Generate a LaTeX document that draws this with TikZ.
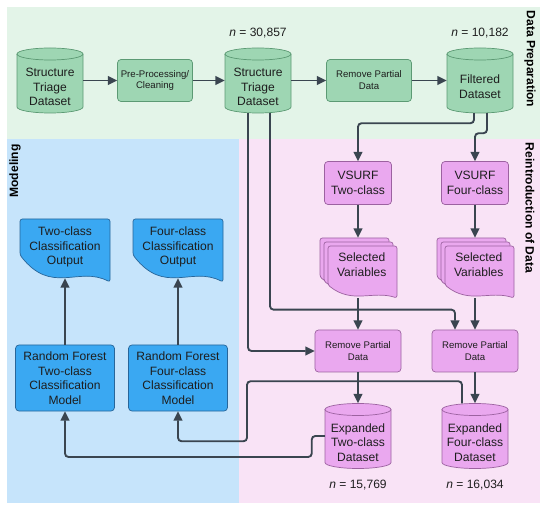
\documentclass[tikz,border=0pt]{standalone}
\usepackage{fontspec}
\setmainfont{Liberation Sans}
\usetikzlibrary{positioning,shapes.geometric,arrows.meta,calc}

\definecolor{prepBg}{HTML}{E3F4E8}
\definecolor{prepFill}{HTML}{9ED6B3}
\definecolor{prepLine}{HTML}{5C9A74}
\definecolor{modelBg}{HTML}{C6E4FB}
\definecolor{modelFill}{HTML}{3AA8F2}
\definecolor{modelLine}{HTML}{28669A}
\definecolor{reinBg}{HTML}{F9E3F6}
\definecolor{reinFill}{HTML}{EAA8EF}
\definecolor{reinLine}{HTML}{9C62A0}
\definecolor{flowLine}{HTML}{3A4550}
\definecolor{inkText}{HTML}{1E1E1E}

\tikzset{
  txt/.style={font=\fontsize{10.3}{12.4}\selectfont, text=inkText, align=center},
  smalltxt/.style={font=\fontsize{8.2}{10.2}\selectfont, text=inkText, align=center},
  lane/.style={font=\bfseries\fontsize{10.3}{12.4}\selectfont, text=black},
  tank/.style={rectangle, minimum width=1.98cm, minimum height=1.95cm, inner sep=0pt},
  tanktext/.style={txt, yshift=-5.5pt},
  stack/.style={rectangle, minimum width=2.31cm, minimum height=1.8cm, inner sep=0pt},
  stacktext/.style={txt, xshift=3.2pt, yshift=3pt},
  procbox/.style={rectangle, rounded corners=3pt, line width=0.6pt, inner sep=1pt},
  prepnode/.style={fill=prepFill, draw=prepLine},
  modelnode/.style={fill=modelFill, draw=modelLine},
  reinnode/.style={fill=reinFill, draw=reinLine},
  page/.style={line width=0.6pt, rounded corners=2pt},
  flow/.style={draw=flowLine, line width=1.6pt, rounded corners=3pt,
    -{Triangle[length=8pt,width=7.5pt]}},
}

%%% one page of a document shape: style, left, top, width, side height, wave depth
\newcommand{\docpage}[6]{%
  \filldraw[page,#1] (#2,#3) -- (#2+#4,#3) -- (#2+#4,#3+#5+#6)
    .. controls (#2+0.65*#4,#3+#5+0.4*#6) and (#2+0.35*#4,#3+#5+1.5*#6) .. (#2,#3+#5) -- cycle;}
%%% a database cylinder 66 wide and 65 high: style, centre x, centre y
\newcommand{\tankshape}[3]{%
  \filldraw[line width=0.6pt,#1] (#2-33,#3-26.5) -- (#2-33,#3+26.5)
    arc[start angle=180, end angle=360, x radius=0.99cm, y radius=0.18cm]
    -- (#2+33,#3-26.5) arc[start angle=0, end angle=180, x radius=0.99cm, y radius=0.18cm] -- cycle;
  \draw[line width=0.6pt,#1,fill=none] (#2-33,#3-26.5)
    arc[start angle=180, end angle=360, x radius=0.99cm, y radius=0.18cm];}

\begin{document}
\begin{tikzpicture}[x=0.03cm,y=-0.03cm]
\useasboundingbox (0,0) rectangle (550,512);
%%% The three swim lanes
\fill[prepBg] (7,7) rectangle (540,139);
\fill[modelBg] (7,139) rectangle (239,503);
\fill[reinBg] (239,139) rectangle (540,503);
\node[lane, rotate=-90] (lanePrep) at (530,59) {Data Preparation};
\node[lane, rotate=-90] (laneRein) at (530,208) {Reintroduction of Data};
\node[lane, rotate=90] (laneModel) at (15,171) {Modeling};

%%% Data preparation row
\tankshape{prepnode}{50}{80.5}
\tankshape{prepnode}{258}{80.5}
\tankshape{prepnode}{480}{80.5}
\node[tank, label={[tanktext]center:Structure\\Triage\\Dataset}] (src) at (50,80.5) {};
\node[procbox, prepnode, smalltxt, minimum width=2.25cm, minimum height=1.26cm] (prep) at (155,80.5) {Pre-Processing/\\Cleaning};
\node[tank, label={[tanktext]center:Structure\\Triage\\Dataset}] (triage) at (258,80.5) {};
\node[procbox, prepnode, smalltxt, minimum width=2.55cm, minimum height=1.26cm] (rmA) at (369,80.5) {Remove Partial\\Data};
\node[tank, label={[tanktext]center:Filtered\\Dataset}] (filt) at (480,80.5) {};
\node[txt] (nTriage) at (258,33) {\textit{n} = 30,857};
\node[txt] (nFilt) at (480,33) {\textit{n} = 10,182};

%%% Variable selection
\node[procbox, reinnode, txt, minimum width=2.01cm, minimum height=1.29cm] (vsTwo) at (358,183) {VSURF\\Two-class};
\node[procbox, reinnode, txt, minimum width=2.01cm, minimum height=1.29cm] (vsFour) at (475,183) {VSURF\\Four-class};
\foreach \k in {0,1,2} {\docpage{reinnode}{320+4*\k}{238+4*\k}{69}{39}{13}}
\foreach \k in {0,1,2} {\docpage{reinnode}{437+4*\k}{238+4*\k}{69}{39}{13}}
\node[stack, label={[stacktext]center:Selected\\Variables}] (selTwo) at (358,268) {};
\node[stack, label={[stacktext]center:Selected\\Variables}] (selFour) at (475,268) {};

%%% Reintroduction of data
\node[procbox, reinnode, smalltxt, minimum width=2.58cm, minimum height=1.26cm] (rmTwo) at (358,351) {Remove Partial\\Data};
\node[procbox, reinnode, smalltxt, minimum width=2.58cm, minimum height=1.26cm] (rmFour) at (475,351) {Remove Partial\\Data};
\tankshape{reinnode}{358}{436}
\tankshape{reinnode}{475}{436}
\node[tank, label={[tanktext]center:Expanded\\Two-class\\Dataset}] (expTwo) at (358,436) {};
\node[tank, label={[tanktext]center:Expanded\\Four-class\\Dataset}] (expFour) at (475,436) {};
\node[txt] (nTwo) at (358,485) {\textit{n} = 15,769};
\node[txt] (nFour) at (475,485) {\textit{n} = 16,034};

%%% Modeling
\node[procbox, modelnode, txt, minimum width=2.97cm, minimum height=1.98cm] (rfTwo) at (65,378) {Random Forest\\Two-class\\Classification\\Model};
\node[procbox, modelnode, txt, minimum width=2.97cm, minimum height=1.98cm] (rfFour) at (178,378) {Random Forest\\Four-class\\Classification\\Model};
\docpage{modelnode}{20}{219}{90}{36}{27}
\docpage{modelnode}{133}{219}{90}{36}{27}
\node[txt, minimum height=1.86cm] (outTwo) at (65,247) {Two-class\\Classification\\Output};
\node[txt, minimum height=1.86cm] (outFour) at (178,247) {Four-class\\Classification\\Output};

%%% Connectors
\draw[flow] (src.east) -- (prep.west);
\draw[flow] (prep.east) -- (triage.west);
\draw[flow] (triage.east) -- (rmA.west);
\draw[flow] (rmA.east) -- (filt.west);
\draw[flow] ($(filt.south)+(-6,0)$) -- ++(0,10) -| (vsTwo.north);
\draw[flow] ($(filt.south)+(7,0)$) -- ++(0,20) -| (vsFour.north);
\draw[flow] (vsTwo.south) -- (selTwo.north);
\draw[flow] (vsFour.south) -- (selFour.north);
\draw[flow] (selTwo.south) -- (rmTwo.north);
\draw[flow] (selFour.south) -- (rmFour.north);
\draw[flow] ($(triage.south)+(-10,0)$) |- (rmTwo.west);
\draw[flow] ($(triage.south)+(12,0)$) |- ($(rmFour.north)+(-20,-20)$) -- ($(rmFour.north)+(-20,0)$);
\draw[flow] (rmTwo.south) -- (expTwo.north);
\draw[flow] (rmFour.south) -- (expFour.north);
\draw[flow] (expTwo.west) -- ++(-13,0) -- ++(0,21) -| (rfTwo.south);
\draw[flow] ($(expFour.north)+(-13,0)$) -- ++(0,-22) -- ++(-215,0) -- ++(0,60) -| (rfFour.south);
\draw[flow] (rfTwo.north) -- (outTwo.south);
\draw[flow] (rfFour.north) -- (outFour.south);
\end{tikzpicture}
\end{document}
